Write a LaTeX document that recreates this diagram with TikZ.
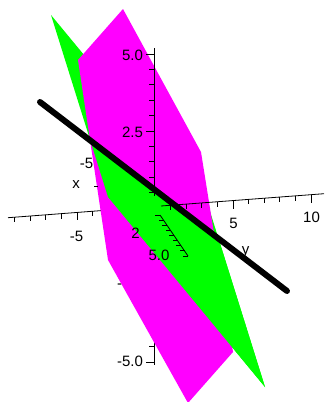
\documentclass[tikz,border=0pt]{standalone}
\usepackage{fontspec}
\setmainfont{Liberation Sans}
\definecolor{plgreen}{RGB}{0,255,0}
\definecolor{plmag}{RGB}{255,0,255}
\begin{document}
\begin{tikzpicture}[x=1pt,y=-1pt,
  axisline/.style={line width=0.8pt,black},
  tickmark/.style={line width=0.8pt,black},
  lbl/.style={inner sep=0pt,font=\fontsize{15}{15}\selectfont},
  gplane/.style={fill=plgreen},
  mplane/.style={fill=plmag},
  isect/.style={line width=6pt,line cap=round,black}]
\useasboundingbox (0,0) rectangle (325,402);
% ---- parts of the axes lying behind the planes ----
\draw[axisline] (8,217.7) -- (155,206.5);
\foreach \k in {1,...,9}{
  \pgfmathsetmacro\xx{155-15.6*\k}
  \pgfmathsetmacro\yy{206.5+0.076*15.6*\k}
  \pgfmathsetmacro\ll{\k==5 ? 8 : 5}
  \draw[tickmark] (\xx,\yy) -- ++(0,\ll);
}
\draw[axisline] (154,208) -- (154,365);
\foreach \k in {1,...,10}{
  \pgfmathsetmacro\yy{208+15.4*\k}
  \pgfmathsetmacro\ll{(\k==5 || \k==10) ? 8 : 5}
  \draw[tickmark] (154,\yy) -- ++(-\ll,0);
}
\node[lbl] (zm25) at (119.5,286) {-};
\node[lbl] (zm5) at (130,361) {-5.0};
% ---- planes ----
\fill[gplane] (51,15) -- (208,205) -- (265,387) -- (108,197) -- cycle;
\fill[mplane] (123,9) -- (201,152) -- (233,352) -- (188,403) -- (108,260) -- (78,60) -- cycle;
\begin{scope}
  \clip (-454,-276) -- (781,669) -- (-454,669) -- cycle;
  \fill[gplane] (51,15) -- (208,205) -- (265,387) -- (108,197) -- cycle;
\end{scope}
% ---- parts of the axes in front ----
\draw[axisline] (161,206.0) -- (324,193.7);
\foreach \k in {1,...,10}{
  \pgfmathsetmacro\xx{155+15.6*\k}
  \pgfmathsetmacro\yy{206.5-0.076*15.6*\k}
  \pgfmathsetmacro\ll{(\k==5 || \k==10) ? 8 : 5}
  \draw[tickmark] (\xx,\yy) -- ++(0,\ll);
}
\draw[axisline] (154,48) -- (154,196);
\foreach \k in {1,...,10}{
  \pgfmathsetmacro\yy{208-15.4*\k}
  \pgfmathsetmacro\ll{(\k==5 || \k==10) ? 8 : 5}
  \draw[tickmark] (154,\yy) -- ++(-\ll,0);
}
\draw[axisline] (160,215) -- (188,256);
\foreach \t in {0,...,8}{
  \pgfmathsetmacro\xx{160+3.5*\t}
  \pgfmathsetmacro\yy{215+5.125*\t}
  \draw[tickmark] (\xx,\yy) -- ++(-5,0);
}
\draw[tickmark] (94,186) -- (98,186);
% ---- labels ----
\node[lbl] (z5) at (132.5,55.5) {5.0};
\node[lbl] (z25) at (132.5,132.5) {2.5};
\node[lbl] (xm5) at (86.5,163) {-5};
\node[lbl,anchor=base] (xlab) at (76,188) {x};
\node[lbl] (x2) at (135.5,233) {2};
\node[lbl] (x5) at (159,255) {5.0};
\node[lbl] (ym5) at (76.5,236) {-5};
\node[lbl] (y5) at (233.5,223.5) {5};
\node[lbl] (y10) at (311.5,217.5) {10};
\node[lbl,anchor=base] (ylab) at (245.5,254.5) {y};
% ---- line of intersection ----
\coordinate (la) at (40,102);
\coordinate (lb) at (287,291);
\draw[isect] (la) -- (lb);
\end{tikzpicture}
\end{document}
